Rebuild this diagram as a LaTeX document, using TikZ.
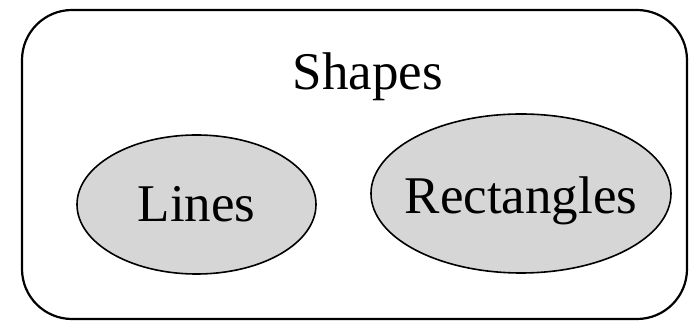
\documentclass[tikz,border=0pt]{standalone}
\usepackage{fontspec}
\setmainfont{Liberation Serif}
\usetikzlibrary{shapes.geometric}

\begin{document}
\begin{tikzpicture}[x=1pt,y=1pt,
  big/.style={font=\fontsize{53}{60}\selectfont,inner sep=0pt},
  blob/.style={big,ellipse,draw,line width=1.6pt,fill=black!16,inner xsep=-30pt}]
\useasboundingbox (0,0) rectangle (689,321);
% outer box holding the two shape kinds
\node[draw,line width=2.2pt,rounded corners=50pt,minimum width=665pt,minimum height=309pt] (frame) at (354.5,156.5) {};
\node[big,anchor=base] (title) at (368,231) {Shapes};
\node[blob,minimum width=239pt,minimum height=139pt] (lines) at (196.5,116.5) {Lines};
\node[blob,minimum width=300pt,minimum height=159pt,text height=41pt,text depth=0pt] (rects) at (521,127.5) {Rectangles};
\end{tikzpicture}
\end{document}
